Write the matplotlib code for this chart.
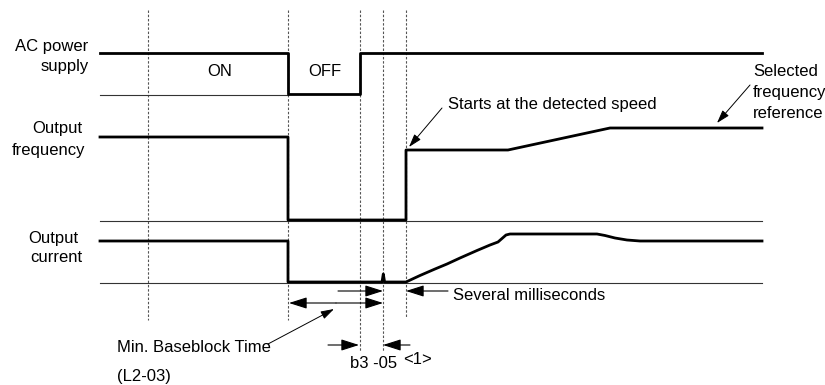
import matplotlib
matplotlib.use('Agg')
import matplotlib.pyplot as plt

plt.rcParams['font.family'] = ['Liberation Sans', 'DejaVu Sans']

# event times (dashed guide lines) and how far each one reaches down
t_marks = [148, 288, 360, 383, 406]
t_mark_bottom = [320, 320, 352, 352, 318]

# AC power supply
ac_x = [100, 288, 288, 360, 360, 762]
ac_y = [53, 53, 94, 94, 53, 53]

# output frequency
freq_x = [100, 288, 288, 406, 406, 508, 610, 762]
freq_y = [137, 137, 220, 220, 150, 150, 128, 128]

# output current
cur_x = [100, 288, 288, 382, 383.3, 384.6, 406, 420, 435, 447, 460, 477, 490, 498,
         502, 506, 510, 597, 605, 615, 627, 640, 762]
cur_y = [241, 241, 282, 282, 274, 282, 282, 275.5, 269, 264, 258, 250.5, 245, 242,
         238.5, 235, 234, 234, 235.5, 238, 240, 241, 241]

# baselines: (y, x start, x end)
baselines = [(95, 100, 288), (221, 100, 762), (283, 100, 762)]

fig = plt.figure(figsize=(8.25, 3.85), dpi=100)
ax = fig.add_axes([0, 0, 1, 1])
ax.set_xlim(0, 825)
ax.set_ylim(385, 0)
ax.axis('off')

for x, yb in zip(t_marks, t_mark_bottom):
    ax.plot([x, x], [10, yb], color='#555555', lw=0.8, ls=(0, (2.2, 1.6)))

for y, x0, x1 in baselines:
    ax.plot([x0, x1], [y, y], color='#333333', lw=0.8)

for xs, ys in [(ac_x, ac_y), (freq_x, freq_y), (cur_x, cur_y)]:
    ax.plot(xs, ys, color='black', lw=2.0, solid_joinstyle='round')

fs = 12
# signal labels
ax.text(51.5, 47, 'AC power', ha='center', va='center', fontsize=fs)
ax.text(64.5, 67, 'supply', ha='center', va='center', fontsize=fs)
ax.text(57, 128, 'Output', ha='center', va='center', fontsize=fs)
ax.text(49, 150, 'frequency', ha='center', va='center', fontsize=fs)
ax.text(53, 238, 'Output', ha='center', va='center', fontsize=fs)
ax.text(56, 257, 'current', ha='center', va='center', fontsize=fs)
ax.text(220, 72, 'ON', ha='center', va='center', fontsize=fs)
ax.text(325, 72, 'OFF', ha='center', va='center', fontsize=fs)

# callouts
ax.text(448, 105, 'Starts at the detected speed', ha='left', va='center', fontsize=fs)
ax.text(753, 72, 'Selected', ha='left', va='center', fontsize=fs)
ax.text(753, 93, 'frequency', ha='left', va='center', fontsize=fs)
ax.text(753, 113, 'reference', ha='left', va='center', fontsize=fs)
ax.text(453, 295, 'Several milliseconds', ha='left', va='center', fontsize=fs)
ax.text(117, 347, 'Min. Baseblock Time', ha='left', va='center', fontsize=fs)
ax.text(117, 377, '(L2-03)', ha='left', va='center', fontsize=fs)
ax.text(374, 364, 'b3 -05', ha='center', va='center', fontsize=fs)
ax.text(418, 359, '<1>', ha='center', va='center', fontsize=fs)

pointer = dict(arrowstyle='-|>,head_length=0.8,head_width=0.25', mutation_scale=10,
               color='black', lw=0.7, shrinkA=0, shrinkB=0)
ax.annotate('', xy=(409, 147), xytext=(442, 108), arrowprops=pointer)
ax.annotate('', xy=(717, 123), xytext=(750, 85), arrowprops=pointer)
ax.annotate('', xy=(334, 309), xytext=(268, 344), arrowprops=pointer)

dim = dict(arrowstyle='-|>,head_length=1.1,head_width=0.35', mutation_scale=10,
           color='black', lw=0.8, shrinkA=0, shrinkB=0)
# several milliseconds (pointing inwards)
ax.annotate('', xy=(383, 291), xytext=(338, 291), arrowprops=dim)
ax.annotate('', xy=(406, 291), xytext=(448, 291), arrowprops=dim)
# min baseblock time (double headed)
ax.annotate('', xy=(289, 303), xytext=(336, 303), arrowprops=dim)
ax.annotate('', xy=(383, 303), xytext=(336, 303), arrowprops=dim)
# b3-05
ax.annotate('', xy=(359, 345), xytext=(328, 345), arrowprops=dim)
ax.annotate('', xy=(383, 345), xytext=(410, 345), arrowprops=dim)

fig.savefig('out.png', dpi=100)
